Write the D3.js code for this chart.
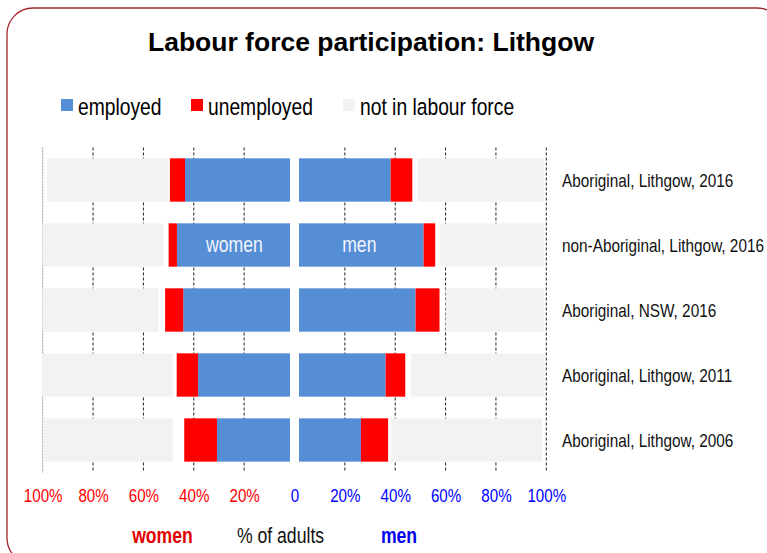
<!DOCTYPE html>
<html>
<head>
<meta charset="utf-8">
<script src="https://cdn.jsdelivr.net/npm/d3@7"></script>
<style>
  body { margin: 0; background: #fff; }
  svg { display: block; font-family: "Liberation Sans", Arial, sans-serif; }
</style>
</head>
<body>
<div id="chart"></div>
<script>
// Categories, top to bottom
const categories = [
  "Aboriginal, Lithgow, 2016",
  "non-Aboriginal, Lithgow, 2016",
  "Aboriginal, NSW, 2016",
  "Aboriginal, Lithgow, 2011",
  "Aboriginal, Lithgow, 2006"
];

// % of adults
const womenEmployed = [41.7, 44.9, 42.4, 36.5, 29.0];
const womenUnemployed = [6.0, 3.3, 7.2, 8.5, 13.0];
const womenNotStated = [0.7, 2.0, 2.5, 1.5, 4.5];
const womenNotInLF = [48.1, 48.1, 46.2, 52.0, 51.2];

const menEmployed = [36.4, 49.5, 46.3, 34.4, 24.6];
const menUnemployed = [8.6, 4.6, 9.5, 7.8, 10.8];
const menNotStated = [2.1, 1.6, 2.4, 2.3, 1.1];
const menNotInLF = [50.3, 41.7, 39.2, 53.0, 60.0];

const ticks = [0, 20, 40, 60, 80, 100];
const legendItems = ["employed", "unemployed", "not in labour force"];

// Colours
const colors = { employed: "#558ed5", unemployed: "#ff0000", notStated: "none", notInLF: "#f2f2f2" };
const womenColor = "#ff0000";
const menColor = "#0000ff";

const width = 767, height = 553;
const center = 294.5;   // shared zero position
const halfSpan = 251.8; // px for 100%
const barGap = 4.5;     // bars stand off the centre line

// no narrow font installed, so squeeze the regular one horizontally
function narrow(sel, k = 0.82) {
  sel.each(function () {
    const t = d3.select(this);
    const x = +t.attr("x") || 0;
    const yy = +t.attr("y") || 0;
    t.attr("x", 0).attr("y", 0)
      .attr("transform", `translate(${x},${yy}) scale(${k},1)`);
  });
}

const svg = d3.select("#chart").append("svg")
  .attr("width", width)
  .attr("height", height);

// Frame
svg.append("rect")
  .attr("x", 7).attr("y", 8)
  .attr("width", 776).attr("height", 556)
  .attr("rx", 26)
  .attr("fill", "#fff")
  .attr("stroke", "#a3262b")
  .attr("stroke-width", 1.3);

// Title
svg.append("text")
  .attr("x", 371).attr("y", 51)
  .attr("text-anchor", "middle")
  .style("font-weight", "bold")
  .style("font-size", "26.5px")
  .text("Labour force participation: Lithgow");

// Legend
const legendX = [61, 191, 343];
const legendColors = [colors.employed, colors.unemployed, colors.notInLF];
const legend = svg.append("g");
legendItems.forEach((name, i) => {
  legend.append("rect")
    .attr("x", legendX[i]).attr("y", 99)
    .attr("width", 12).attr("height", 12)
    .attr("fill", legendColors[i]);
  legend.append("text")
    .attr("x", legendX[i] + 17).attr("y", 115)
    .style("font-size", "23.5px")
    .text(name)
    .call(narrow);
});

// Scales
const xWomen = d3.scaleLinear().domain([0, 100]).range([center, center - halfSpan]);
const xMen = d3.scaleLinear().domain([0, 100]).range([center, center + halfSpan]);
const y = d3.scaleBand().domain(categories).range([147.5, 472.5]).paddingInner(0.333).paddingOuter(0.1665);

const plotTop = y.range()[0], plotBottom = y.range()[1];

// Gridlines
function grid(scale, values, side) {
  svg.append("g")
    .selectAll("line")
    .data(values)
    .join("line")
    .attr("x1", (d) => scale(d)).attr("x2", (d) => scale(d))
    .attr("y1", plotTop).attr("y2", plotBottom)
    .attr("stroke", (d) => (d === 100 && side === "w" ? "#999" : "#222"))
    .attr("stroke-width", 1)
    .attr("stroke-dasharray", (d) => (d === 100 && side === "w" ? "2,1" : "3,2"));
}
grid(xWomen, ticks.filter((t) => t > 0), "w");
grid(xMen, ticks.filter((t) => t > 0), "m");

// Stacked bars
function stack(series) {
  return categories.map((c, i) => {
    let acc = 0;
    return series.map(([key, arr]) => {
      const seg = { cat: c, key, x0: acc, x1: acc + arr[i] };
      acc += arr[i];
      return seg;
    });
  }).flat();
}

const womenSegs = stack([["employed", womenEmployed], ["unemployed", womenUnemployed], ["notStated", womenNotStated], ["notInLF", womenNotInLF]]);
const menSegs = stack([["employed", menEmployed], ["unemployed", menUnemployed], ["notStated", menNotStated], ["notInLF", menNotInLF]]);

svg.append("g")
  .selectAll("rect")
  .data(womenSegs.filter((d) => d.key !== "notStated"))
  .join("rect")
  .attr("x", (d) => xWomen(d.x1) - barGap)
  .attr("width", (d) => xWomen(d.x0) - xWomen(d.x1))
  .attr("y", (d) => y(d.cat))
  .attr("height", y.bandwidth())
  .attr("fill", (d) => colors[d.key]);

svg.append("g")
  .selectAll("rect")
  .data(menSegs.filter((d) => d.key !== "notStated"))
  .join("rect")
  .attr("x", (d) => xMen(d.x0) + barGap)
  .attr("width", (d) => xMen(d.x1) - xMen(d.x0))
  .attr("y", (d) => y(d.cat))
  .attr("height", y.bandwidth())
  .attr("fill", (d) => colors[d.key]);

// Labels inside the second row
const row2 = categories[1];
svg.append("text")
  .attr("x", (xWomen(0) - barGap + xWomen(womenEmployed[1]) - barGap) / 2 + 1)
  .attr("y", y(row2) + y.bandwidth() / 2 + 7)
  .attr("text-anchor", "middle")
  .style("font-size", "21.5px").style("fill", "#f2f4ff")
  .text("women")
  .call(narrow);
svg.append("text")
  .attr("x", (xMen(0) + barGap + xMen(menEmployed[1]) + barGap) / 2 - 2)
  .attr("y", y(row2) + y.bandwidth() / 2 + 7)
  .attr("text-anchor", "middle")
  .style("font-size", "21.5px").style("fill", "#f2f4ff")
  .text("men")
  .call(narrow);

// Category labels
svg.append("g")
  .selectAll("text")
  .data(categories)
  .join("text")
  .attr("x", 562)
  .attr("y", (d) => y(d) + y.bandwidth() / 2 + 6.5)
  .style("font-size", "18.7px")
  .style("fill", "#111")
  .text((d) => d)
  .call(narrow);

// Axes
const axisY = plotBottom;
const axW = svg.append("g")
  .attr("transform", `translate(0,${axisY})`)
  .call(d3.axisBottom(xWomen).tickValues(ticks.filter((t) => t > 0)).tickSize(0).tickPadding(16).tickFormat((d) => d + "%"));
const axM = svg.append("g")
  .attr("transform", `translate(0,${axisY})`)
  .call(d3.axisBottom(xMen).tickValues(ticks).tickSize(0).tickPadding(16).tickFormat((d) => (d === 0 ? "0" : d + "%")));
[axW, axM].forEach((a) => {
  a.select(".domain").remove();
  a.selectAll("text")
    .attr("font-family", null).attr("font-size", null)
    .style("font-size", "18.5px")
    .call(narrow);
});
axW.selectAll("text").style("fill", womenColor);
axM.selectAll("text").style("fill", menColor);

// Bottom titles
const bottom = svg.append("g").style("font-size", "21.5px");
bottom.append("text").attr("x", 162.5).attr("y", 543).attr("text-anchor", "middle")
  .style("font-weight", "bold").style("fill", "#e00000").text("women").call(narrow);
bottom.append("text").attr("x", 280.5).attr("y", 543).attr("text-anchor", "middle")
  .style("fill", "#111").text("% of adults").call(narrow);
bottom.append("text").attr("x", 399).attr("y", 543).attr("text-anchor", "middle")
  .style("font-weight", "bold").style("fill", "#0000ee").text("men").call(narrow);
</script>
</body>
</html>
